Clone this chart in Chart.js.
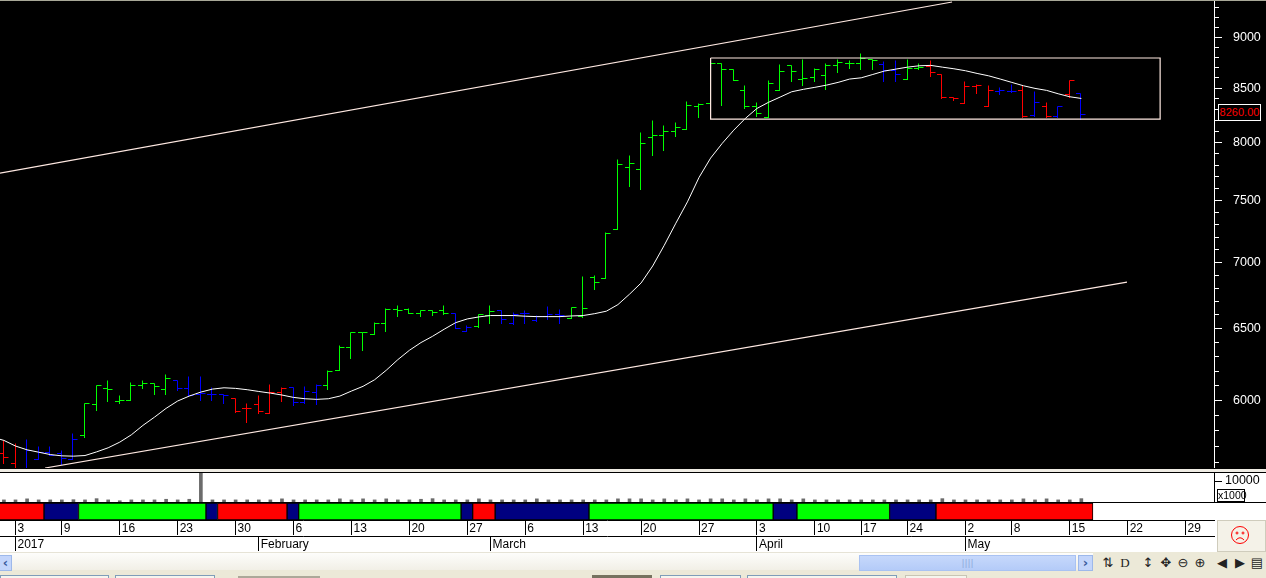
<!DOCTYPE html>
<html>
<head>
<meta charset="utf-8">
<title>Price chart</title>
<script src="https://cdn.jsdelivr.net/npm/chart.js@4/dist/chart.umd.js"></script>
<style>
html, body { margin: 0; padding: 0; width: 1266px; height: 578px; overflow: hidden; background: #ece9d8; font-family: "Liberation Sans", Arial, sans-serif; }
canvas { position: absolute; left: 0; display: block; }
.box { position: absolute; box-sizing: border-box; }
.glyph { position: absolute; top: 555px; height: 16px; line-height: 16px; font-size: 13px; color: #222; font-family: "DejaVu Sans", sans-serif; text-align: center; width: 16px; }
</style>
</head>
<body>
<div class="box" style="left:0;top:0;width:1266px;height:469px;background:#000"></div>
<canvas id="mainChart" width="1266" height="468" style="top:0"></canvas>
<div class="box" style="left:0;top:0;width:1266px;height:1px;background:#a8a898"></div>
<div class="box" style="left:0;top:469px;width:1266px;height:3px;background:#efece4"></div>
<div class="box" style="left:0;top:472px;width:1266px;height:80px;background:#fff;border-top:1px solid #000"></div>
<canvas id="volumeChart" width="1266" height="29" style="top:473px"></canvas>
<div class="box" style="left:0;top:502px;width:1266px;height:1px;background:#000"></div>
<canvas id="lowerChart" width="1266" height="49" style="top:503px"></canvas>

<div id="lastPrice" class="box" style="left:1218px;top:104px;width:43px;height:17px;border:1px solid #fff;background:#000;color:#f00;font-size:11px;line-height:15px;text-align:center"></div>
<div class="box" style="left:1217px;top:489px;width:28px;height:13px;border:1px solid #000;background:#fff;color:#000;font-size:10.5px;line-height:11px;text-align:center">x1000</div>
<div class="box" style="left:1217px;top:520px;width:49px;height:32px;background:#f4f2e8;border:1px solid #cfccbc">
  <svg width="47" height="30" style="display:block" fill="none" stroke="#f00" stroke-width="1">
    <circle cx="22" cy="14" r="8.5"/>
    <circle cx="19" cy="12" r="1"/>
    <circle cx="25" cy="12" r="1"/>
    <path d="M18 19 Q22 14.5 26 19"/>
  </svg>
</div>

<!-- scroll bar row -->
<div class="box" style="left:0;top:552px;width:1266px;height:18px;background:linear-gradient(#fdfdfb,#f1efe6);border-top:1px solid #e6e3d6"></div>
<div class="box" style="left:0;top:555px;width:12px;height:16px;background:#c3d5fb;border:1px solid #9db8ea;border-left:0;color:#3a5a9c;font:bold 13px/14px 'DejaVu Sans';text-align:center">‹</div>
<div class="box" style="left:859px;top:555px;width:217px;height:16px;background:linear-gradient(#c6d8fb,#b4cbf8);border:1px solid #a9c2f2;color:#8ea8dc;font:9px/14px 'DejaVu Sans';text-align:center">||||</div>
<div class="box" style="left:1078px;top:555px;width:15px;height:16px;background:#c3d5fb;border:1px solid #9db8ea;color:#3a5a9c;font:bold 13px/14px 'DejaVu Sans';text-align:center">›</div>
<div class="box" style="left:1093px;top:552px;width:173px;height:18px;background:#ece9d8"></div>
<span class="glyph" style="left:1100px">⇅</span>
<span class="glyph" style="left:1117px;font-family:'Liberation Serif'">D</span>
<span class="glyph" style="left:1140px">↕</span>
<span class="glyph" style="left:1158px">✥</span>
<span class="glyph" style="left:1175px">⊖</span>
<span class="glyph" style="left:1192px">⊕</span>
<span class="glyph" style="left:1214px">◀</span>
<span class="glyph" style="left:1232px">▶</span>
<span class="glyph" style="left:1249px">▤</span>

<!-- tab strip -->
<div class="box" style="left:0;top:575px;width:109px;height:3px;background:#f6f5ee;border:1px solid #7f9db9;border-bottom:0"></div>
<div class="box" style="left:115px;top:575px;width:100px;height:3px;background:#f6f5ee;border:1px solid #7f9db9;border-bottom:0"></div>
<div class="box" style="left:238px;top:576px;width:82px;height:2px;background:#aca899"></div>
<div class="box" style="left:592px;top:575px;width:60px;height:3px;background:#76725f"></div>
<div class="box" style="left:660px;top:575px;width:81px;height:3px;background:#f6f5ee;border:1px solid #7f9db9;border-bottom:0"></div>
<div class="box" style="left:747px;top:575px;width:150px;height:3px;background:#f6f5ee;border:1px solid #7f9db9;border-bottom:0"></div>
<div class="box" style="left:905px;top:575px;width:62px;height:3px;background:#f6f5ee;border:1px solid #c8c5b4;border-bottom:0"></div>

<script>
// first bar on screen is index -1, the day before the "3" tick
var firstBar = -1;
var opens = [5657,5597,5561,5621,5663,5657,5621,5771,5978,6083,5993,6004,6101,6120,6079,6140,6083,6045,6045,6045,6018,5951,5978,5918,6056,6090,5989,6056,6101,6209,6370,6476,6459,6542,6642,6642,6618,6637,6637,6618,6484,6517,6598,6635,6539,6615,6561,6591,6610,6581,6591,6882,6881,7261,7781,7764,8047,8065,8101,8119,8333,8359,8740,8681,8480,8335,8229,8480,8720,8585,8604,8623,8720,8740,8740,8779,8730,8671,8585,8691,8716,8632,8420,8359,8521,8332,8476,8471,8483,8247,8329,8237,8448,8452];
var highs = [5738,5723,5750,5700,5700,5678,5785,5984,6106,6136,6034,6124,6140,6120,6181,6140,6163,6163,6090,6045,6018,5984,6034,6108,6090,6090,6094,6108,6209,6385,6476,6476,6552,6652,6677,6652,6640,6640,6677,6618,6525,6610,6677,6635,6620,6640,6603,6669,6642,6660,6892,6899,7237,7854,7889,8094,8204,8158,8183,8380,8358,8745,8740,8681,8530,8368,8575,8731,8723,8782,8691,8740,8782,8772,8838,8779,8762,8772,8779,8740,8772,8632,8420,8568,8540,8530,8509,8537,8530,8476,8368,8329,8581,8452];
var lows = [5594,5566,5561,5619,5648,5590,5621,5760,5938,5993,5984,6004,6083,6045,6045,6067,6034,6004,6004,5984,5922,5857,5918,5918,5995,5971,5982,5973,6074,6205,6289,6349,6459,6484,6593,6618,6596,6603,6605,6505,6481,6515,6542,6542,6537,6542,6556,6571,6542,6581,6586,6797,6881,7261,7623,7598,7892,7936,8061,8119,8234,8350,8342,8575,8317,8243,8229,8480,8568,8530,8568,8492,8658,8697,8687,8687,8571,8566,8585,8684,8619,8410,8389,8359,8457,8329,8442,8461,8234,8243,8234,8234,8420,8216];
var closes = [5632,5566,5674,5663,5648,5628,5748,5984,6101,6079,6004,6101,6120,6097,6152,6083,6038,6050,6045,6034,5929,5951,5927,6056,6086,5989,6063,6101,6198,6370,6476,6476,6542,6647,6637,6618,6637,6625,6618,6505,6515,6610,6632,6574,6610,6615,6593,6610,6603,6657,6652,6851,7229,7808,7816,7993,8065,8101,8137,8339,8349,8740,8681,8575,8335,8271,8547,8665,8661,8594,8684,8720,8750,8740,8789,8769,8671,8632,8691,8706,8652,8420,8404,8521,8530,8483,8483,8471,8237,8368,8237,8329,8581,8260];
var barStates = ['r','r','b','b','b','b','b','g','g','g','g','g','g','g','g','b','b','b','b','b','r','r','r','r','r','b','b','b','g','g','g','g','g','g','g','g','g','g','g','b','b','g','g','b','b','b','b','b','b','g','g','g','g','g','g','g','g','g','g','g','g','g','g','g','g','g','g','g','g','g','g','g','g','g','g','g','b','b','g','g','r','r','r','r','r','r','b','b','r','b','r','b','r','b'];

// moving average starts one bar earlier so it reaches the left edge
var maFirst = -2;
var maLine = [5759,5738,5702,5678,5663,5648,5640,5638,5642,5665,5691,5727,5774,5835,5889,5947,5996,6029,6056,6076,6085,6081,6072,6060,6049,6036,6020,6011,6007,6011,6029,6063,6095,6140,6205,6279,6345,6400,6445,6496,6544,6571,6586,6596,6596,6596,6591,6588,6588,6588,6593,6596,6610,6628,6677,6755,6840,6971,7134,7312,7488,7695,7863,7993,8112,8219,8311,8368,8417,8467,8490,8509,8530,8556,8588,8600,8632,8665,8684,8703,8716,8720,8703,8687,8668,8642,8619,8588,8556,8524,8499,8480,8448,8420,8404];

// channel lines and the box, in bar index / price
var upperTrend = [{x:-1.34,y:7732},{x:80.84,y:9359}];
var lowerTrend = [{x:2.55,y:5564},{x:95.94,y:6846}];
var boxRange = [{x:60,y:8792},{x:98.8,y:8792},{x:98.8,y:8213},{x:60,y:8213},{x:60,y:8792}];

var volumes = [1000,1000,1500,1000,1000,1000,1100,1000,1600,1000,600,1000,1000,1000,1300,1000,1300,14000,1000,1000,1000,1000,1000,1000,1500,1000,1000,1000,1000,1500,1000,1500,1000,1500,1000,1000,1300,1600,1000,1000,1000,1500,1000,1000,1000,1000,1500,1000,1000,1000,1000,1000,1000,1500,1500,1500,1000,1500,1000,1500,1000,1500,1500,1000,1500,1000,1500,1500,1000,1500,1000,1000,1000,1000,1000,1000,1000,1000,1000,1000,1000,1600,1000,1000,1000,1000,1000,1000,1500,1000,1500,1000,1000,1600];

var bandEdges = [-2.5,2.46,5.44,16.44,17.44,23.44,24.44,38.46,39.46,41.4,49.5,65.4,67.45,75.45,79.45,93];
var bandStates = ['r','b','g','b','r','b','g','b','r','b','g','b','g','b','r'];

var priceLabels = [6000,6500,7000,7500,8000,8500,9000];
var dayTicks = [0,4,9,14,19,24,29,34,39,44,49,54,59,64,69,73,77,82,86,91,96,101];
var dayLabels = ['3','9','16','23','30','6','13','20','27','6','13','20','27','3','10','17','24','2','8','15','22','29'];
var monthTicks = [0,21,41,64,82];
var monthLabels = ['2017','February','March','April','May'];

var barColours = {r:'#ff0000', g:'#00ff00', b:'#0000ff'};
var bandColours = {r:'#ff0000', g:'#00ff00', b:'#000080'};
var xMin = -1.338, xMax = 103.45;
var axisWidth = 52;

Chart.defaults.font.family = '"Liberation Sans", Arial, sans-serif';
Chart.defaults.animation = false;
Chart.defaults.devicePixelRatio = 1;
Chart.defaults.responsive = false;
Chart.defaults.plugins.legend.display = false;
Chart.defaults.plugins.tooltip.enabled = false;

// bar chart with the open tick on the left and close tick on the right
class OhlcController extends Chart.LineController {
    draw() {
        var meta = this.getMeta();
        var ctx = this.chart.ctx;
        ctx.save();
        ctx.lineWidth = 1;
        this.getDataset().data.forEach(function(bar) {
            var x = Math.round(meta.xScale.getPixelForValue(bar.x)) - 0.5;
            var snap = function(v) { return Math.round(meta.yScale.getPixelForValue(v)) + 0.5; };
            ctx.strokeStyle = barColours[bar.state];
            ctx.beginPath();
            ctx.moveTo(x, snap(bar.h));
            ctx.lineTo(x, snap(bar.l) + 0.5);
            ctx.moveTo(x - 4.5, snap(bar.o));
            ctx.lineTo(x, snap(bar.o));
            ctx.moveTo(x, snap(bar.c));
            ctx.lineTo(x + 5, snap(bar.c));
            ctx.stroke();
        });
        ctx.restore();
    }
}
OhlcController.id = 'ohlc';
OhlcController.defaults = Object.assign({}, Chart.LineController.defaults);
Chart.register(OhlcController);

var bars = closes.map(function(c, i) {
    return {x: firstBar + i, y: c, o: opens[i], h: highs[i], l: lows[i], c: c, state: barStates[i]};
});
var maPoints = maLine.map(function(v, i) { return {x: maFirst + i, y: v}; });
var volumeBars = volumes.map(function(v, i) { return {x: firstBar + i, y: v}; });

function thinLine(data, colour, width) {
    return {type: 'line', data: data, borderColor: colour, borderWidth: width, pointRadius: 0, tension: 0, fill: false};
}

// the label margins would otherwise shrink the plot area
function fitAxisWidth(s) {
    s.width = axisWidth;
    s.paddingTop = 0;
    s.paddingBottom = 0;
}

new Chart(document.getElementById('mainChart'), {
    type: 'line',
    data: {
        datasets: [
            thinLine(boxRange, '#ffe9e2', 1.2),
            thinLine(upperTrend, '#ffe9e2', 1.2),
            thinLine(lowerTrend, '#ffe9e2', 1.2),
            thinLine(maPoints, '#ffffff', 1),
            {type: 'ohlc', data: bars, pointRadius: 0}
        ]
    },
    options: {
        layout: {padding: 0},
        scales: {
            x: {type: 'linear', display: false, min: xMin, max: xMax},
            y: {
                type: 'logarithmic',
                position: 'right',
                min: 5564,
                max: 9380,
                afterFit: fitAxisWidth,
                afterBuildTicks: function(s) {
                    var list = [];
                    for (var v = 5600; v <= 9300; v += 100) list.push({value: v});
                    s.ticks = list;
                },
                border: {color: '#ffffff', width: 1},
                grid: {
                    drawOnChartArea: false,
                    tickLength: 8,
                    tickColor: '#ffffff',
                    tickBorderDash: function(c) {
                        return priceLabels.indexOf(c.tick && c.tick.value) >= 0 ? [] : [4, 100];
                    }
                },
                ticks: {
                    autoSkip: false,
                    color: '#ffffff',
                    padding: 11,
                    font: {size: 12.5},
                    callback: function(v) { return priceLabels.indexOf(v) >= 0 ? String(v) : ''; }
                }
            }
        }
    }
});

new Chart(document.getElementById('volumeChart'), {
    type: 'bar',
    data: {datasets: [{data: volumeBars, backgroundColor: '#6b6b6b', barThickness: 3}]},
    options: {
        layout: {padding: 0},
        scales: {
            x: {type: 'linear', display: false, min: xMin, max: xMax, offset: false},
            y: {
                position: 'right',
                min: 0,
                max: 13810,
                afterFit: fitAxisWidth,
                afterBuildTicks: function(s) { s.ticks = [{value: 10000}]; },
                border: {color: '#000000'},
                grid: {drawOnChartArea: false, tickLength: 8, tickColor: '#000000'},
                ticks: {color: '#000000', padding: 3, font: {size: 12.5}, callback: function(v) { return String(v); }}
            }
        }
    }
});

function dateAxis(ticksAt, labels, weight) {
    return {
        type: 'linear',
        position: 'bottom',
        weight: weight,
        min: xMin,
        max: xMax,
        afterFit: function(s) {
            s.height = 16;
            s.paddingLeft = 0;
            s.paddingRight = 0;
        },
        afterBuildTicks: function(s) {
            s.ticks = ticksAt.map(function(v) { return {value: v}; });
        },
        border: {color: '#000000'},
        grid: {drawOnChartArea: false, tickLength: 15, tickColor: '#000000'},
        ticks: {
            autoSkip: false,
            maxRotation: 0,
            align: 'start',
            labelOffset: 2,
            padding: -14,
            color: '#000000',
            font: {size: 12},
            callback: function(v) { return labels[ticksAt.indexOf(v)]; }
        }
    };
}

new Chart(document.getElementById('lowerChart'), {
    type: 'bar',
    data: {
        labels: ['signal'],
        datasets: bandStates.map(function(s, k) {
            return {
                data: [[bandEdges[k], bandEdges[k + 1]]],
                backgroundColor: bandColours[s],
                borderColor: '#000000',
                borderWidth: 1,
                borderSkipped: false,
                barPercentage: 1,
                categoryPercentage: 1
            };
        })
    },
    options: {
        indexAxis: 'y',
        layout: {padding: {right: axisWidth}},
        scales: {
            x: dateAxis(dayTicks, dayLabels, 0),
            x2: dateAxis(monthTicks, monthLabels, 1),
            y: {type: 'category', display: false, stacked: true}
        }
    }
});

document.getElementById('lastPrice').textContent = closes[closes.length - 1].toFixed(2);
</script>
</body>
</html>
